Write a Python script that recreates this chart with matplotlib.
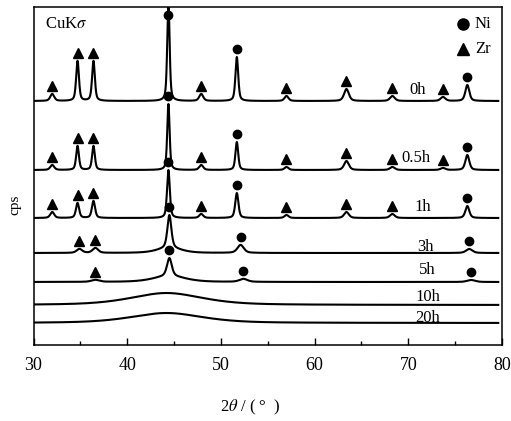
import numpy as np
import matplotlib
matplotlib.use("Agg")
from matplotlib import pyplot as plt

plt.rcParams['font.family'] = ['Liberation Serif', 'DejaVu Serif']
plt.rcParams['mathtext.fontset'] = 'stix'

# milling times, from top to bottom
labels = ['0h', '0.5h', '1h', '3h', '5h', '10h', '20h']
# baseline of every pattern (offset, arbitrary units)
baselines = [244, 175, 127, 92, 63, 40, 22]

# peaks: (2theta, height, fwhm)
peaks_0h = [(32.0, 7, 0.5), (34.7, 40, 0.35), (36.4, 40, 0.35), (44.4, 100, 0.3),
            (47.9, 7, 0.5), (51.7, 44, 0.35), (57.0, 5, 0.5), (63.4, 12, 0.6),
            (68.3, 5, 0.6), (73.7, 4, 0.6), (76.3, 16, 0.5)]
peaks_05h = [(32.0, 5, 0.5), (34.7, 24, 0.35), (36.4, 24, 0.35), (44.4, 66, 0.3),
             (47.9, 5, 0.5), (51.7, 28, 0.35), (57.0, 3, 0.5), (63.4, 9, 0.6),
             (68.3, 3, 0.6), (73.7, 2, 0.6), (76.3, 15, 0.5)]
peaks_1h = [(32.0, 6, 0.5), (34.7, 15, 0.4), (36.4, 17, 0.4), (44.4, 48, 0.35),
            (47.9, 4, 0.5), (51.7, 25, 0.4), (57.0, 3, 0.5), (63.4, 6, 0.6),
            (68.3, 4, 0.6), (76.3, 12, 0.5)]
peaks_3h = [(34.9, 4, 0.7), (36.6, 5, 0.7), (44.5, 33, 0.5), (44.5, 5, 3.0),
            (52.1, 8, 0.8), (76.5, 4, 0.8)]
peaks_5h = [(36.6, 2, 1.0), (44.5, 18, 0.6), (44.5, 6, 4.0), (52.4, 3, 1.0),
            (76.7, 2, 1.0)]
peaks_10h = [(44.2, 12, 9.0)]
peaks_20h = [(44.2, 10, 9.0)]
all_peaks = [peaks_0h, peaks_05h, peaks_1h, peaks_3h, peaks_5h, peaks_10h, peaks_20h]

# phase markers above the peaks
ni_marks = [[44.4, 51.7, 76.3], [44.4, 51.7, 76.3], [44.4, 51.7, 76.3],
            [44.5, 52.1, 76.5], [44.5, 52.4, 76.7], [], []]
zr_marks = [[32.0, 34.7, 36.4, 47.9, 57.0, 63.4, 68.3, 73.7],
            [32.0, 34.7, 36.4, 47.9, 57.0, 63.4, 68.3, 73.7],
            [32.0, 34.7, 36.4, 47.9, 57.0, 63.4, 68.3],
            [34.9, 36.6], [36.6], [], []]

# where the time labels sit
label_x = [71.0, 70.8, 71.6, 71.8, 72.0, 72.1, 72.1]
label_dy = [11, 12, 11, 6, 12, 8, 5]


def profile(x, peaks):
    """Pseudo-Voigt sum of the listed peaks."""
    y = np.zeros_like(x)
    for pos, height, fwhm in peaks:
        g = np.exp(-4 * np.log(2) * ((x - pos) / fwhm) ** 2)
        l = 1 / (1 + 4 * ((x - pos) / fwhm) ** 2)
        y += height * (0.5 * g + 0.5 * l)
    return y


fig = plt.figure(figsize=(5.11, 4.21), dpi=100)
ax = fig.add_axes([33.5 / 511, 76 / 421, 468.5 / 511, 338 / 421])

x = np.linspace(30.15, 79.6, 3000)
for i, lab in enumerate(labels):
    y = baselines[i] + profile(x, all_peaks[i])
    ax.plot(x, y, color='black', lw=1.5)

    def mark_y(px):
        val = baselines[i] + profile(np.array([px]), all_peaks[i])[0]
        return min(val + 8, 330)

    for px in ni_marks[i]:
        ax.plot(px, mark_y(px), marker='o', ms=6, color='black', clip_on=False)
    for px in zr_marks[i]:
        ax.plot(px, mark_y(px), marker='^', ms=6.5, color='black', clip_on=False)

    ax.text(label_x[i], baselines[i] + label_dy[i], lab, ha='center', va='center',
            fontsize=12)

# legend drawn by hand
ax.plot(0.916, 0.95, marker='o', ms=8, color='black', transform=ax.transAxes)
ax.text(0.942, 0.95, 'Ni', transform=ax.transAxes, ha='left', va='center', fontsize=12)
ax.plot(0.916, 0.876, marker='^', ms=8.5, color='black', transform=ax.transAxes)
ax.text(0.942, 0.876, 'Zr', transform=ax.transAxes, ha='left', va='center', fontsize=12)

ax.text(0.024, 0.95, r'CuK$\sigma$', transform=ax.transAxes, ha='left', va='center',
        fontsize=12)

ax.set_xlim(30, 80)
ax.set_ylim(0, 338)
ax.set_xticks([30, 40, 50, 60, 70, 80])
ax.set_xticks([35, 45, 55, 65, 75], minor=True)
ax.set_yticks([])
ax.tick_params(axis='x', which='major', direction='in', length=5, width=1,
               labelsize=13, pad=9)
ax.tick_params(axis='x', which='minor', direction='in', length=3, width=1)
for sp in ax.spines.values():
    sp.set_linewidth(1.1)

fig.text(250 / 511, 1 - 407 / 421, r'2$\theta$ / ( °  )', ha='center', va='center',
         fontsize=12)
fig.text(15 / 511, 1 - 205 / 421, 'cps', rotation=90, ha='center', va='center',
         fontsize=11)

fig.savefig('out.png', dpi=100)
